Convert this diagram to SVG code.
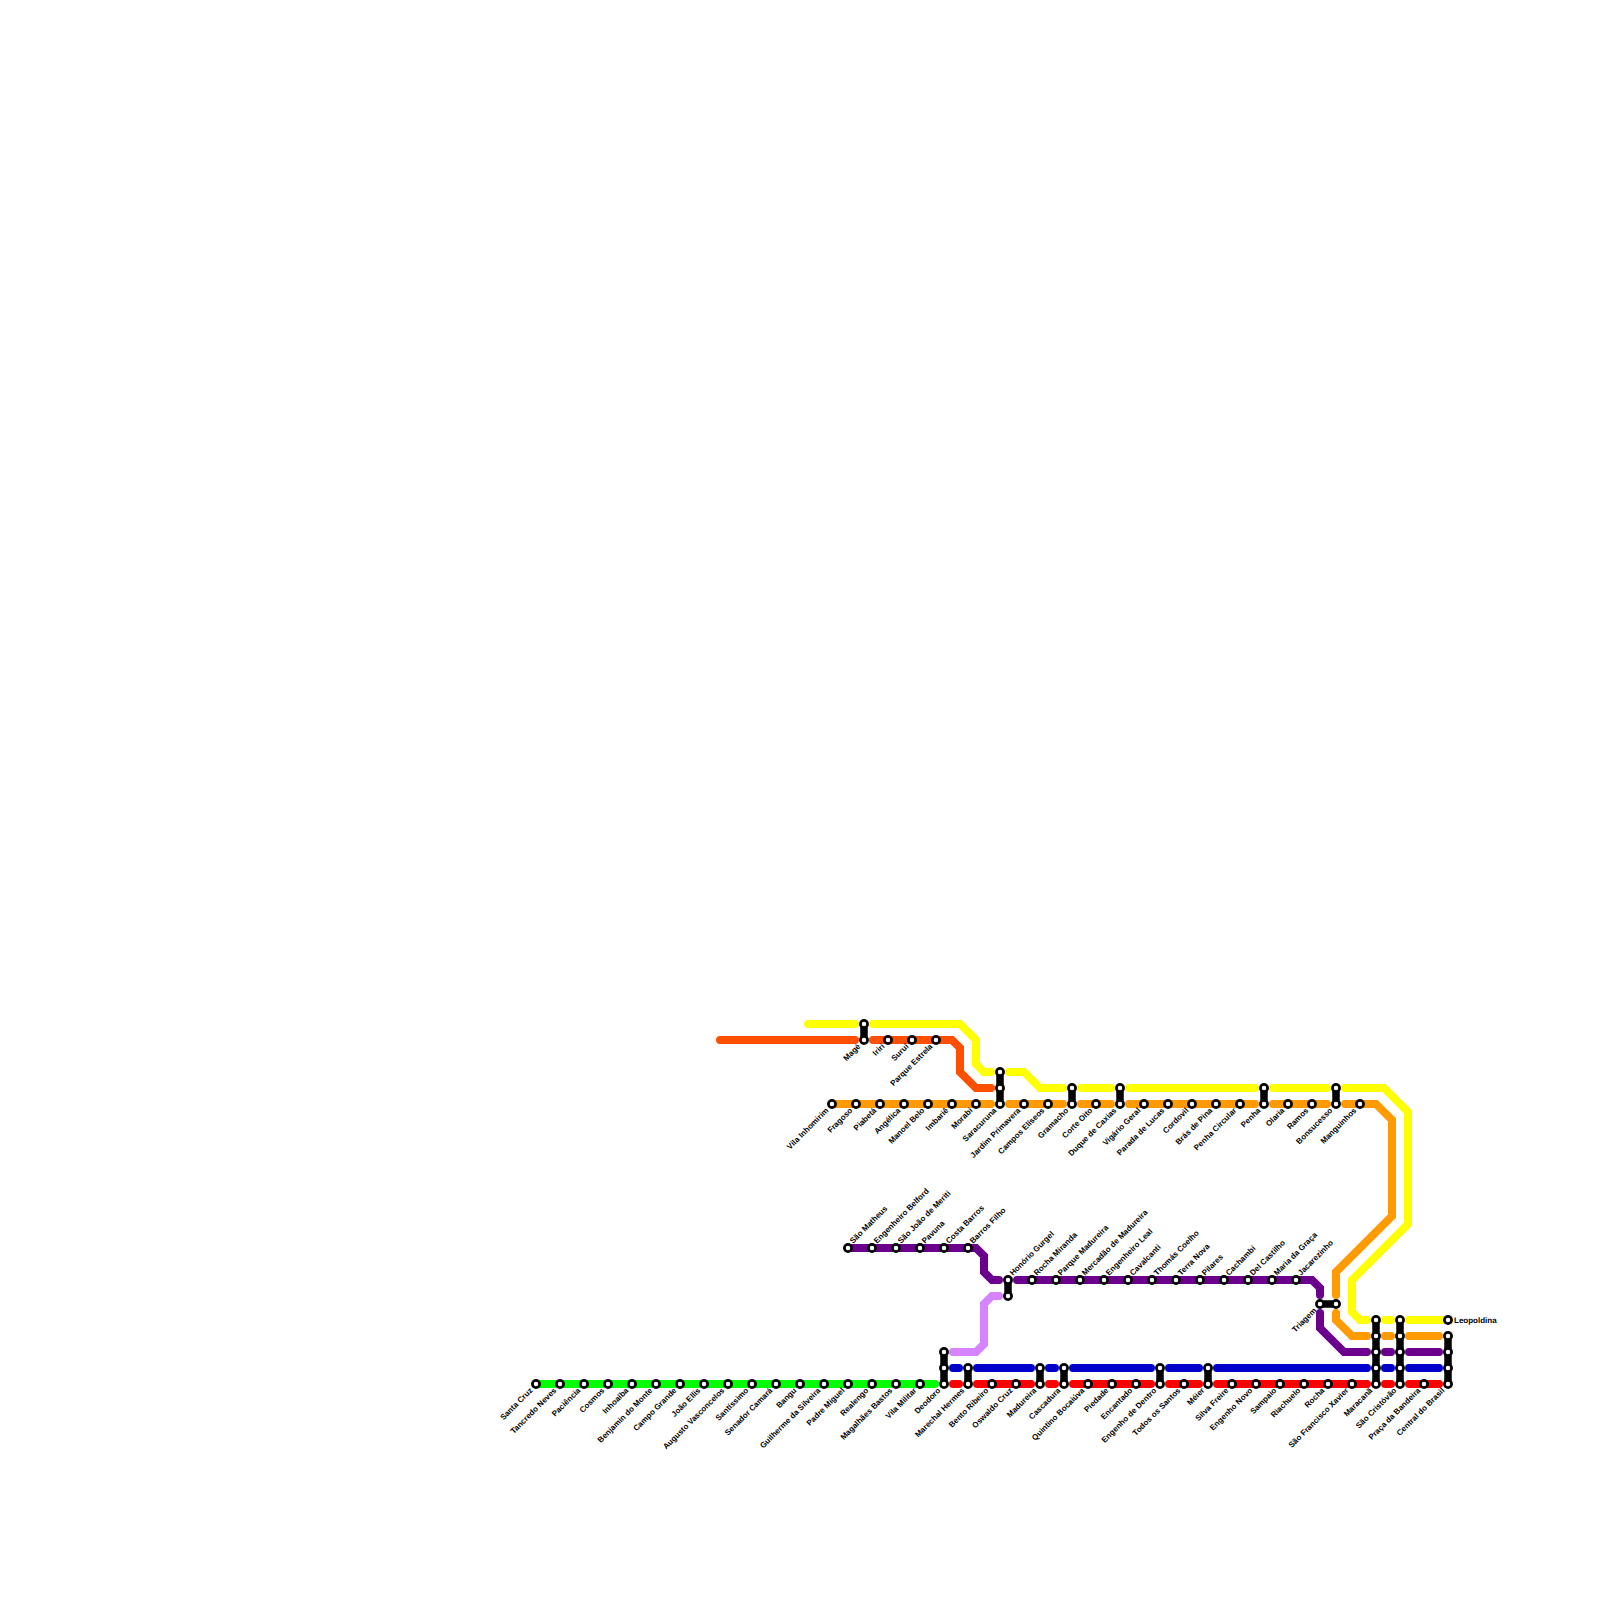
<svg xmlns="http://www.w3.org/2000/svg" width="1600" height="1600" viewBox="0 0 1600 1600">
<style>
.line{fill:none;stroke-width:8;stroke-linecap:round;stroke-linejoin:miter}
.green{stroke:#00ff00}.red{stroke:#ff0000}.blue{stroke:#0000cd}.purple{stroke:#6a008c}.lilac{stroke:#d683ff}.orange{stroke:#ff9a00}.yellow{stroke:#ffff00}.ored{stroke:#ff4f00}
circle{fill:#fff;stroke:#000;stroke-width:2.7;r:3.6px}
.x{stroke:#000;stroke-width:7.5;stroke-linecap:round;fill:none}
text{font-family:"Liberation Sans",Arial,sans-serif;font-size:8px;font-weight:bold;fill:#000;text-rendering:geometricPrecision}
.b{text-anchor:end}
</style>
<g id="connectors">
<path class="line green" d="M536 1384H935"/>
<path class="line red" d="M953 1384H959M977 1384H1031M1049 1384H1055M1073 1384H1151M1169 1384H1199M1217 1384H1367M1385 1384H1391M1409 1384H1439"/>
<path class="line blue" d="M953 1368H959M977 1368H1031M1049 1368H1055M1073 1368H1151M1169 1368H1199M1217 1368H1367M1385 1368H1391M1409 1368H1439"/>
<path class="line lilac" d="M953 1352H976L984 1344V1304L992 1296H999"/>
<path class="line purple" d="M848 1248H976L984 1256V1272L992 1280H999M1017 1280H1312L1320 1288V1295M1320 1313V1328L1344 1352H1367M1385 1352H1391M1409 1352H1439"/>
<path class="line orange" d="M832 1104H991M1009 1104H1063M1081 1104H1111M1129 1104H1255M1273 1104H1327M1345 1104H1376L1392 1120V1216L1336 1272V1295M1336 1313V1320L1352 1336H1367M1385 1336H1391M1409 1336H1439"/>
<path class="line yellow" d="M808 1024H855M873 1024H960L976 1040V1064L984 1072H991M1009 1072H1024L1040 1088H1063M1081 1088H1111M1129 1088H1255M1273 1088H1327M1345 1088H1384L1408 1112V1224L1352 1280V1312L1360 1320H1367M1385 1320H1391M1409 1320H1448"/>
<path class="line ored" d="M720 1040H855M873 1040H952L960 1048V1072L976 1088H991"/>
</g>
<g id="nodes">
<g id="santa-cruz" transform="translate(536 1384)"><circle/><text class="b" transform="translate(-3 7) rotate(-45)">Santa Cruz</text></g>
<g id="tancredo-neves" transform="translate(560 1384)"><circle/><text class="b" transform="translate(-3 7) rotate(-45)">Tancredo Neves</text></g>
<g id="paciencia" transform="translate(584 1384)"><circle/><text class="b" transform="translate(-3 7) rotate(-45)">Paciência</text></g>
<g id="cosmos" transform="translate(608 1384)"><circle/><text class="b" transform="translate(-3 7) rotate(-45)">Cosmos</text></g>
<g id="inhoaiba" transform="translate(632 1384)"><circle/><text class="b" transform="translate(-3 7) rotate(-45)">Inhoaíba</text></g>
<g id="benjamin-do-monte" transform="translate(656 1384)"><circle/><text class="b" transform="translate(-3 7) rotate(-45)">Benjamin do Monte</text></g>
<g id="campo-grande" transform="translate(680 1384)"><circle/><text class="b" transform="translate(-3 7) rotate(-45)">Campo Grande</text></g>
<g id="joao-ellis" transform="translate(704 1384)"><circle/><text class="b" transform="translate(-3 7) rotate(-45)">João Ellis</text></g>
<g id="augusto-vasconcelos" transform="translate(728 1384)"><circle/><text class="b" transform="translate(-3 7) rotate(-45)">Augusto Vasconcelos</text></g>
<g id="santissimo" transform="translate(752 1384)"><circle/><text class="b" transform="translate(-3 7) rotate(-45)">Santíssimo</text></g>
<g id="senador-camara" transform="translate(776 1384)"><circle/><text class="b" transform="translate(-3 7) rotate(-45)">Senador Camará</text></g>
<g id="bangu" transform="translate(800 1384)"><circle/><text class="b" transform="translate(-3 7) rotate(-45)">Bangu</text></g>
<g id="guilherme-da-silveira" transform="translate(824 1384)"><circle/><text class="b" transform="translate(-3 7) rotate(-45)">Guilherme da Silveira</text></g>
<g id="padre-miguel" transform="translate(848 1384)"><circle/><text class="b" transform="translate(-3 7) rotate(-45)">Padre Miguel</text></g>
<g id="realengo" transform="translate(872 1384)"><circle/><text class="b" transform="translate(-3 7) rotate(-45)">Realengo</text></g>
<g id="magalhaes-bastos" transform="translate(896 1384)"><circle/><text class="b" transform="translate(-3 7) rotate(-45)">Magalhães Bastos</text></g>
<g id="vila-militar" transform="translate(920 1384)"><circle/><text class="b" transform="translate(-3 7) rotate(-45)">Vila Militar</text></g>
<g id="deodoro" transform="translate(944 1384)"><path class="x" d="M0 0V-32"/><circle cy="-32"/><circle cy="-16"/><circle/><text class="b" transform="translate(-3 7) rotate(-45)">Deodoro</text></g>
<g id="marechal-hermes" transform="translate(968 1384)"><path class="x" d="M0 0V-16"/><circle cy="-16"/><circle/><text class="b" transform="translate(-3 7) rotate(-45)">Marechal Hermes</text></g>
<g id="bento-ribeiro" transform="translate(992 1384)"><circle/><text class="b" transform="translate(-3 7) rotate(-45)">Bento Ribeiro</text></g>
<g id="oswaldo-cruz" transform="translate(1016 1384)"><circle/><text class="b" transform="translate(-3 7) rotate(-45)">Oswaldo Cruz</text></g>
<g id="madureira" transform="translate(1040 1384)"><path class="x" d="M0 0V-16"/><circle cy="-16"/><circle/><text class="b" transform="translate(-3 7) rotate(-45)">Madureira</text></g>
<g id="cascadura" transform="translate(1064 1384)"><path class="x" d="M0 0V-16"/><circle cy="-16"/><circle/><text class="b" transform="translate(-3 7) rotate(-45)">Cascadura</text></g>
<g id="quintino-bocaiuva" transform="translate(1088 1384)"><circle/><text class="b" transform="translate(-3 7) rotate(-45)">Quintino Bocaiúva</text></g>
<g id="piedade" transform="translate(1112 1384)"><circle/><text class="b" transform="translate(-3 7) rotate(-45)">Piedade</text></g>
<g id="encantado" transform="translate(1136 1384)"><circle/><text class="b" transform="translate(-3 7) rotate(-45)">Encantado</text></g>
<g id="engenho-de-dentro" transform="translate(1160 1384)"><path class="x" d="M0 0V-16"/><circle cy="-16"/><circle/><text class="b" transform="translate(-3 7) rotate(-45)">Engenho de Dentro</text></g>
<g id="todos-os-santos" transform="translate(1184 1384)"><circle/><text class="b" transform="translate(-3 7) rotate(-45)">Todos os Santos</text></g>
<g id="meier" transform="translate(1208 1384)"><path class="x" d="M0 0V-16"/><circle cy="-16"/><circle/><text class="b" transform="translate(-3 7) rotate(-45)">Méier</text></g>
<g id="silva-freire" transform="translate(1232 1384)"><circle/><text class="b" transform="translate(-3 7) rotate(-45)">Silva Freire</text></g>
<g id="engenho-novo" transform="translate(1256 1384)"><circle/><text class="b" transform="translate(-3 7) rotate(-45)">Engenho Novo</text></g>
<g id="sampaio" transform="translate(1280 1384)"><circle/><text class="b" transform="translate(-3 7) rotate(-45)">Sampaio</text></g>
<g id="riachuelo" transform="translate(1304 1384)"><circle/><text class="b" transform="translate(-3 7) rotate(-45)">Riachuelo</text></g>
<g id="rocha" transform="translate(1328 1384)"><circle/><text class="b" transform="translate(-3 7) rotate(-45)">Rocha</text></g>
<g id="sao-francisco-xavier" transform="translate(1352 1384)"><circle/><text class="b" transform="translate(-3 7) rotate(-45)">São Francisco Xavier</text></g>
<g id="maracana" transform="translate(1376 1384)"><path class="x" d="M0 0V-64"/><circle cy="-64"/><circle cy="-48"/><circle cy="-32"/><circle cy="-16"/><circle/><text class="b" transform="translate(-3 7) rotate(-45)">Maracanã</text></g>
<g id="sao-cristovao" transform="translate(1400 1384)"><path class="x" d="M0 0V-64"/><circle cy="-64"/><circle cy="-48"/><circle cy="-32"/><circle cy="-16"/><circle/><text class="b" transform="translate(-3 7) rotate(-45)">São Cristóvão</text></g>
<g id="praca-da-bandeira" transform="translate(1424 1384)"><circle/><text class="b" transform="translate(-3 7) rotate(-45)">Praça da Bandeira</text></g>
<g id="central-do-brasil" transform="translate(1448 1384)"><path class="x" d="M0 0V-48"/><circle cy="-48"/><circle cy="-32"/><circle cy="-16"/><circle/><text class="b" transform="translate(-3 7) rotate(-45)">Central do Brasil</text></g>
<g id="leopoldina" transform="translate(1448 1320)"><circle/><text x="6" y="2.6">Leopoldina</text></g>
<g id="sao-matheus" transform="translate(848 1248)"><circle/><text transform="translate(5 -4) rotate(-45)">São Matheus</text></g>
<g id="engenheiro-belford" transform="translate(872 1248)"><circle/><text transform="translate(5 -4) rotate(-45)">Engenheiro Belford</text></g>
<g id="sao-joao-de-meriti" transform="translate(896 1248)"><circle/><text transform="translate(5 -4) rotate(-45)">São João de Meriti</text></g>
<g id="pavuna" transform="translate(920 1248)"><circle/><text transform="translate(5 -4) rotate(-45)">Pavuna</text></g>
<g id="costa-barros" transform="translate(944 1248)"><circle/><text transform="translate(5 -4) rotate(-45)">Costa Barros</text></g>
<g id="barros-filho" transform="translate(968 1248)"><circle/><text transform="translate(5 -4) rotate(-45)">Barros Filho</text></g>
<g id="honorio-gurgel" transform="translate(1008 1280)"><path class="x" d="M0 0V16"/><circle/><circle cy="16"/><text transform="translate(5 -4) rotate(-45)">Honório Gurgel</text></g>
<g id="rocha-miranda" transform="translate(1032 1280)"><circle/><text transform="translate(5 -4) rotate(-45)">Rocha Miranda</text></g>
<g id="parque-madureira" transform="translate(1056 1280)"><circle/><text transform="translate(5 -4) rotate(-45)">Parque Madureira</text></g>
<g id="mercadao-de-madureira" transform="translate(1080 1280)"><circle/><text transform="translate(5 -4) rotate(-45)">Mercadão de Madureira</text></g>
<g id="engenheiro-leal" transform="translate(1104 1280)"><circle/><text transform="translate(5 -4) rotate(-45)">Engenheiro Leal</text></g>
<g id="cavalcanti" transform="translate(1128 1280)"><circle/><text transform="translate(5 -4) rotate(-45)">Cavalcanti</text></g>
<g id="thomas-coelho" transform="translate(1152 1280)"><circle/><text transform="translate(5 -4) rotate(-45)">Thomás Coelho</text></g>
<g id="terra-nova" transform="translate(1176 1280)"><circle/><text transform="translate(5 -4) rotate(-45)">Terra Nova</text></g>
<g id="pilares" transform="translate(1200 1280)"><circle/><text transform="translate(5 -4) rotate(-45)">Pilares</text></g>
<g id="cachambi" transform="translate(1224 1280)"><circle/><text transform="translate(5 -4) rotate(-45)">Cachambi</text></g>
<g id="del-castilho" transform="translate(1248 1280)"><circle/><text transform="translate(5 -4) rotate(-45)">Del Castilho</text></g>
<g id="maria-da-graca" transform="translate(1272 1280)"><circle/><text transform="translate(5 -4) rotate(-45)">Maria da Graça</text></g>
<g id="jacarezinho" transform="translate(1296 1280)"><circle/><text transform="translate(5 -4) rotate(-45)">Jacarezinho</text></g>
<g id="triagem" transform="translate(1320 1304)"><path class="x" d="M0 0H16"/><circle/><circle cx="16"/><text class="b" transform="translate(-3 7) rotate(-45)">Triagem</text></g>
<g id="vila-inhomirim" transform="translate(832 1104)"><circle/><text class="b" transform="translate(-3 7) rotate(-45)">Vila Inhomirim</text></g>
<g id="fragoso" transform="translate(856 1104)"><circle/><text class="b" transform="translate(-3 7) rotate(-45)">Fragoso</text></g>
<g id="piabeta" transform="translate(880 1104)"><circle/><text class="b" transform="translate(-3 7) rotate(-45)">Piabetá</text></g>
<g id="angelica" transform="translate(904 1104)"><circle/><text class="b" transform="translate(-3 7) rotate(-45)">Angélica</text></g>
<g id="manoel-belo" transform="translate(928 1104)"><circle/><text class="b" transform="translate(-3 7) rotate(-45)">Manoel Belo</text></g>
<g id="imbarie" transform="translate(952 1104)"><circle/><text class="b" transform="translate(-3 7) rotate(-45)">Imbariê</text></g>
<g id="morabi" transform="translate(976 1104)"><circle/><text class="b" transform="translate(-3 7) rotate(-45)">Morabi</text></g>
<g id="saracuruna" transform="translate(1000 1104)"><path class="x" d="M0 0V-32"/><circle cy="-32"/><circle cy="-16"/><circle/><text class="b" transform="translate(-3 7) rotate(-45)">Saracuruna</text></g>
<g id="jardim-primavera" transform="translate(1024 1104)"><circle/><text class="b" transform="translate(-3 7) rotate(-45)">Jardim Primavera</text></g>
<g id="campos-eliseos" transform="translate(1048 1104)"><circle/><text class="b" transform="translate(-3 7) rotate(-45)">Campos Elíseos</text></g>
<g id="gramacho" transform="translate(1072 1104)"><path class="x" d="M0 0V-16"/><circle cy="-16"/><circle/><text class="b" transform="translate(-3 7) rotate(-45)">Gramacho</text></g>
<g id="corte-oito" transform="translate(1096 1104)"><circle/><text class="b" transform="translate(-3 7) rotate(-45)">Corte Oito</text></g>
<g id="duque-de-caxias" transform="translate(1120 1104)"><path class="x" d="M0 0V-16"/><circle cy="-16"/><circle/><text class="b" transform="translate(-3 7) rotate(-45)">Duque de Caxias</text></g>
<g id="vigario-geral" transform="translate(1144 1104)"><circle/><text class="b" transform="translate(-3 7) rotate(-45)">Vigário Geral</text></g>
<g id="parada-de-lucas" transform="translate(1168 1104)"><circle/><text class="b" transform="translate(-3 7) rotate(-45)">Parada de Lucas</text></g>
<g id="cordovil" transform="translate(1192 1104)"><circle/><text class="b" transform="translate(-3 7) rotate(-45)">Cordovil</text></g>
<g id="bras-de-pina" transform="translate(1216 1104)"><circle/><text class="b" transform="translate(-3 7) rotate(-45)">Brás de Pina</text></g>
<g id="penha-circular" transform="translate(1240 1104)"><circle/><text class="b" transform="translate(-3 7) rotate(-45)">Penha Circular</text></g>
<g id="penha" transform="translate(1264 1104)"><path class="x" d="M0 0V-16"/><circle cy="-16"/><circle/><text class="b" transform="translate(-3 7) rotate(-45)">Penha</text></g>
<g id="olaria" transform="translate(1288 1104)"><circle/><text class="b" transform="translate(-3 7) rotate(-45)">Olaria</text></g>
<g id="ramos" transform="translate(1312 1104)"><circle/><text class="b" transform="translate(-3 7) rotate(-45)">Ramos</text></g>
<g id="bonsucesso" transform="translate(1336 1104)"><path class="x" d="M0 0V-16"/><circle cy="-16"/><circle/><text class="b" transform="translate(-3 7) rotate(-45)">Bonsucesso</text></g>
<g id="manguinhos" transform="translate(1360 1104)"><circle/><text class="b" transform="translate(-3 7) rotate(-45)">Manguinhos</text></g>
<g id="mage" transform="translate(864 1040)"><path class="x" d="M0 0V-16"/><circle cy="-16"/><circle/><text class="b" transform="translate(-3 7) rotate(-45)">Magé</text></g>
<g id="iriri" transform="translate(888 1040)"><circle/><text class="b" transform="translate(-3 7) rotate(-45)">Iriri</text></g>
<g id="surui" transform="translate(912 1040)"><circle/><text class="b" transform="translate(-3 7) rotate(-45)">Suruí</text></g>
<g id="parque-estrela" transform="translate(936 1040)"><circle/><text class="b" transform="translate(-3 7) rotate(-45)">Parque Estrela</text></g>
</g>
</svg>
